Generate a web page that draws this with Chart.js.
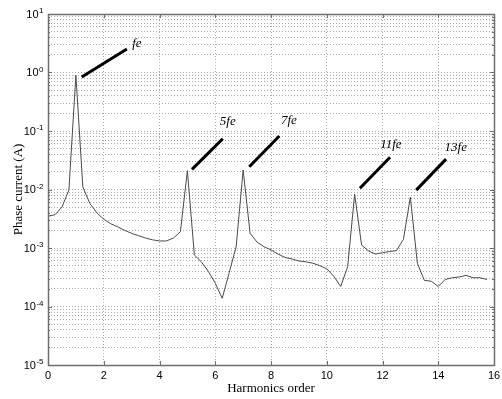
<!DOCTYPE html>
<html>
<head>
<meta charset="utf-8">
<script src="https://cdn.jsdelivr.net/npm/chart.js@4.4.1/dist/chart.umd.min.js"></script>
<style>
  html, body { margin: 0; padding: 0; background: #fff; }
  #wrap { width: 502px; height: 399px; }
</style>
</head>
<body>
<div id="wrap"><canvas id="c" width="502" height="399"></canvas></div>
<script>
// Spectrum of the phase current, sampled every 0.25 harmonic order
const harmonicOrder = [
  0, 0.25, 0.5, 0.75, 1, 1.25, 1.5, 1.75, 2, 2.25, 2.5, 2.75, 3, 3.25, 3.5, 3.75,
  4, 4.25, 4.5, 4.75, 5, 5.25, 5.5, 5.75, 6, 6.25, 6.5, 6.75, 7, 7.25, 7.5, 7.75,
  8, 8.25, 8.5, 8.75, 9, 9.25, 9.5, 9.75, 10, 10.25, 10.5, 10.75, 11, 11.25, 11.5, 11.75,
  12, 12.25, 12.5, 12.75, 13, 13.25, 13.5, 13.75, 14, 14.25, 14.5, 14.75, 15, 15.25, 15.5, 15.75
];
const phaseCurrent = [
  3.5e-3, 3.7e-3, 5.0e-3, 9.8e-3, 0.90, 0.011, 5.8e-3, 4.0e-3, 3.1e-3, 2.6e-3, 2.3e-3, 2.0e-3, 1.78e-3, 1.62e-3, 1.48e-3, 1.38e-3,
  1.32e-3, 1.32e-3, 1.48e-3, 1.9e-3, 0.021, 7.6e-4, 5.8e-4, 4.0e-4, 2.5e-4, 1.38e-4, 3.8e-4, 1.05e-3, 0.0215, 1.78e-3, 1.26e-3, 1.05e-3,
  9.3e-4, 7.9e-4, 6.9e-4, 6.5e-4, 6.0e-4, 5.8e-4, 5.5e-4, 5.0e-4, 4.4e-4, 3.3e-4, 2.2e-4, 4.8e-4, 8.3e-3, 1.12e-3, 8.9e-4, 7.9e-4,
  8.3e-4, 8.7e-4, 9.0e-4, 1.4e-3, 7.4e-3, 5.5e-4, 2.8e-4, 2.7e-4, 2.2e-4, 2.9e-4, 3.1e-4, 3.2e-4, 3.4e-4, 3.1e-4, 3.1e-4, 2.9e-4
];

// Axis ticks
const xTickValues = [0, 2, 4, 6, 8, 10, 12, 14, 16];
const yDecadeExponents = [-5, -4, -3, -2, -1, 0, 1];

// Harmonic callouts: text, leader line start/end and text anchor (harmonic order, A)
const calloutText   = ['fe', '5fe', '7fe', '11fe', '13fe'];
const calloutFromX  = [1.21, 5.165, 7.22, 11.19, 13.21];
const calloutFromY  = [0.84, 0.0221, 0.0245, 0.0105, 0.00977];
const calloutToX    = [2.83, 6.27, 8.30, 12.27, 14.28];
const calloutToY    = [2.52, 0.0738, 0.0822, 0.0355, 0.0331];
const calloutTextX  = [3.19, 6.45, 8.64, 12.30, 14.63];
const calloutTextY  = [3.16, 0.144, 0.148, 0.0577, 0.0519];

// Gridline values: 1..9 x 10^k for every decade
const yGridValues = [];
for (let e = yDecadeExponents[0]; e < yDecadeExponents[yDecadeExponents.length - 1]; e++) {
  for (let m = 1; m <= 9; m++) yGridValues.push(Number((m * Math.pow(10, e)).toPrecision(3)));
}
yGridValues.push(Math.pow(10, yDecadeExponents[yDecadeExponents.length - 1]));

const FRAME = '#6e6e6e';

const framePlugin = {
  id: 'framePlugin',
  afterDraw(chart) {
    const { ctx, chartArea: a, scales } = chart;
    const xs = scales.x, ys = scales.y;
    ctx.save();

    // tick marks pointing inward on all four sides
    ctx.strokeStyle = FRAME;
    ctx.lineWidth = 1;
    ctx.beginPath();
    xTickValues.forEach(v => {
      const px = Math.round(xs.getPixelForValue(v)) + 0.5;
      ctx.moveTo(px, a.bottom); ctx.lineTo(px, a.bottom - 4);
      ctx.moveTo(px, a.top); ctx.lineTo(px, a.top + 4);
    });
    yGridValues.forEach(v => {
      const py = Math.round(ys.getPixelForValue(v)) + 0.5;
      const major = Math.abs(Math.log10(v) - Math.round(Math.log10(v))) < 1e-6;
      const len = major ? 4 : 2;
      ctx.moveTo(a.left, py); ctx.lineTo(a.left + len, py);
      ctx.moveTo(a.right, py); ctx.lineTo(a.right - len, py);
    });
    ctx.stroke();

    // axes box
    ctx.lineWidth = 1.5;
    ctx.strokeRect(Math.round(a.left) + 0.5, Math.round(a.top) + 0.5,
                   Math.round(a.right - a.left), Math.round(a.bottom - a.top));

    // decade labels 10^k
    ctx.fillStyle = '#000';
    yDecadeExponents.forEach(e => {
      const py = ys.getPixelForValue(Math.pow(10, e));
      const base = '10', exp = String(e);
      ctx.font = '11px "Liberation Sans", Arial, sans-serif';
      const wb = ctx.measureText(base).width;
      ctx.font = '8px "Liberation Sans", Arial, sans-serif';
      const we = ctx.measureText(exp).width;
      const right = a.left - 5;
      const x0 = right - wb - we;
      ctx.font = '11px "Liberation Sans", Arial, sans-serif';
      ctx.textAlign = 'left';
      ctx.textBaseline = 'middle';
      ctx.fillText(base, x0, py + 0.5);
      ctx.font = '8px "Liberation Sans", Arial, sans-serif';
      ctx.textBaseline = 'alphabetic';
      ctx.fillText(exp, x0 + wb + 0.5, py - 1);
    });

    // harmonic callouts
    ctx.strokeStyle = '#000';
    ctx.lineWidth = 3;
    ctx.lineCap = 'butt';
    ctx.font = 'italic 13px "Liberation Serif", "Times New Roman", serif';
    ctx.textAlign = 'center';
    ctx.textBaseline = 'middle';
    calloutText.forEach((t, i) => {
      ctx.beginPath();
      ctx.moveTo(xs.getPixelForValue(calloutFromX[i]), ys.getPixelForValue(calloutFromY[i]));
      ctx.lineTo(xs.getPixelForValue(calloutToX[i]), ys.getPixelForValue(calloutToY[i]));
      ctx.stroke();
      ctx.fillText(t, xs.getPixelForValue(calloutTextX[i]), ys.getPixelForValue(calloutTextY[i]));
    });
    ctx.restore();
  }
};

new Chart(document.getElementById('c'), {
  type: 'line',
  data: {
    datasets: [{
      data: harmonicOrder.map((x, i) => ({ x, y: phaseCurrent[i] })),
      borderColor: '#4a4a4a',
      borderWidth: 1,
      pointRadius: 0,
      tension: 0,
      fill: false
    }]
  },
  options: {
    responsive: false,
    animation: false,
    devicePixelRatio: 1,
    layout: { padding: { top: 14, right: 8, left: 0, bottom: 0 } },
    plugins: { legend: { display: false }, tooltip: { enabled: false } },
    scales: {
      x: {
        type: 'linear',
        min: 0, max: 16,
        afterBuildTicks: s => { s.ticks = xTickValues.map(v => ({ value: v })); },
        ticks: {
          font: { family: '"Liberation Sans", Arial, sans-serif', size: 11 },
          color: '#000', padding: 4, maxRotation: 0, autoSkip: false
        },
        grid: { color: '#ababab', drawTicks: false, lineWidth: 1 },
        border: { display: false, dash: [1, 2] },
        title: {
          display: true, text: 'Harmonics order', color: '#000',
          font: { family: '"Liberation Serif", "Times New Roman", serif', size: 13 },
          padding: { top: 0, bottom: 3 }
        },
        afterFit: s => { s.height = 34; s.paddingLeft = 0; s.paddingRight = 0; }
      },
      y: {
        type: 'logarithmic',
        min: 1e-5, max: 10,
        afterBuildTicks: s => { s.ticks = yGridValues.map(v => ({ value: v })); },
        ticks: { display: false },
        grid: { color: '#ababab', drawTicks: false, lineWidth: 1 },
        border: { display: false, dash: [1, 2] },
        title: {
          display: true, text: 'Phase current (A)', color: '#000',
          font: { family: '"Liberation Serif", "Times New Roman", serif', size: 13 },
          padding: { top: 11, bottom: 0 }
        },
        afterFit: s => { s.width = 48; s.paddingTop = 0; s.paddingBottom = 0; }
      }
    }
  },
  plugins: [framePlugin]
});
</script>
</body>
</html>
